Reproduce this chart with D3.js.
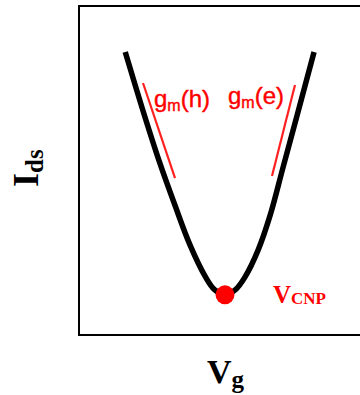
<!DOCTYPE html>
<html>
<head>
<meta charset="utf-8">
<script src="https://cdn.jsdelivr.net/npm/d3@7"></script>
<style>
  body { margin: 0; background: #fff; }
</style>
</head>
<body>
<div id="chart"></div>
<script>
// transfer curve (arbitrary units)
const vg = [-20.5, -16.9, -13.4, -10.3, -7.2, -4.1, -2.1, 0, 2.1, 4.1, 6.8, 9.3, 11.9, 15.0, 18.3];
const ids = [8.60, 6.84, 5.23, 3.95, 2.74, 1.79, 1.37, 1.22, 1.37, 1.76, 2.58, 3.65, 5.08, 6.78, 8.60];

// charge neutrality point
const cnp = { vg: 0, ids: 1.22 };

// transconductance guide lines
const gmHoleVg = [-16.85, -10.27];
const gmHoleIds = [7.66, 4.77];
const gmElecVg = [14.38, 9.66];
const gmElecIds = [7.60, 4.83];

const width = 360, height = 395;

const svg = d3.select("#chart")
    .append("svg")
    .attr("width", width)
    .attr("height", height);

const x = d3.scaleLinear().domain([-30, 30]).range([79, 371]);
const y = d3.scaleLinear().domain([0, 10]).range([335, 6]);

// frame (right side runs off the picture)
svg.append("rect")
    .attr("x", x(-30))
    .attr("y", y(10))
    .attr("width", 400)
    .attr("height", y(0) - y(10))
    .attr("fill", "none")
    .attr("stroke", "#000")
    .attr("stroke-width", 2);

const pts = vg.map((v, i) => [v, ids[i]]);
const line = d3.line()
    .x(d => x(d[0]))
    .y(d => y(d[1]))
    .curve(d3.curveCatmullRom.alpha(0.5));

svg.append("path")
    .datum(pts)
    .attr("d", line)
    .attr("fill", "none")
    .attr("stroke", "#000")
    .attr("stroke-width", 5.5);

// gm guide lines
[[gmHoleVg, gmHoleIds], [gmElecVg, gmElecIds]].forEach(([a, b]) => {
    svg.append("line")
        .attr("x1", x(a[0])).attr("y1", y(b[0]))
        .attr("x2", x(a[1])).attr("y2", y(b[1]))
        .attr("stroke", "#ff2020")
        .attr("stroke-width", 2.2);
});

svg.append("circle")
    .attr("cx", x(cnp.vg))
    .attr("cy", y(cnp.ids))
    .attr("r", 9.5)
    .attr("fill", "#ff0000");

// gm labels
function gmLabel(px, py, carrier) {
    const t = svg.append("text")
        .attr("x", px).attr("y", py)
        .attr("fill", "#ff0000")
        .attr("stroke", "#ff0000")
        .attr("stroke-width", 0.4)
        .style("font-family", "'Liberation Sans', Arial, sans-serif")
        .style("font-size", "24px");
    t.append("tspan").text("g");
    t.append("tspan").attr("dy", 4).style("font-size", "16px").text("m");
    t.append("tspan").attr("dy", -4).text("(" + carrier + ")");
}
gmLabel(154, 107, "h");
gmLabel(228, 104, "e");

// V_CNP label
const vcnp = svg.append("text")
    .attr("x", 273).attr("y", 303)
    .attr("fill", "#ff0000")
    .style("font-family", "'Liberation Serif', 'Times New Roman', serif")
    .style("font-weight", "bold");
vcnp.append("tspan").style("font-size", "25px").text("V");
vcnp.append("tspan").attr("dy", 1).style("font-size", "17px").text("CNP");

// axis titles
const xt = svg.append("text")
    .attr("x", 207).attr("y", 383)
    .style("font-family", "'Liberation Serif', 'Times New Roman', serif")
    .style("font-weight", "bold");
xt.append("tspan").style("font-size", "34px").text("V");
xt.append("tspan").attr("dy", 5).style("font-size", "25px").text("g");

const yt = svg.append("text")
    .attr("transform", "translate(38,187) rotate(-90)")
    .style("font-family", "'Liberation Serif', 'Times New Roman', serif")
    .style("font-weight", "bold");
yt.append("tspan").style("font-size", "36px").text("I");
yt.append("tspan").attr("dy", 5).style("font-size", "25px").text("ds");
</script>
</body>
</html>
